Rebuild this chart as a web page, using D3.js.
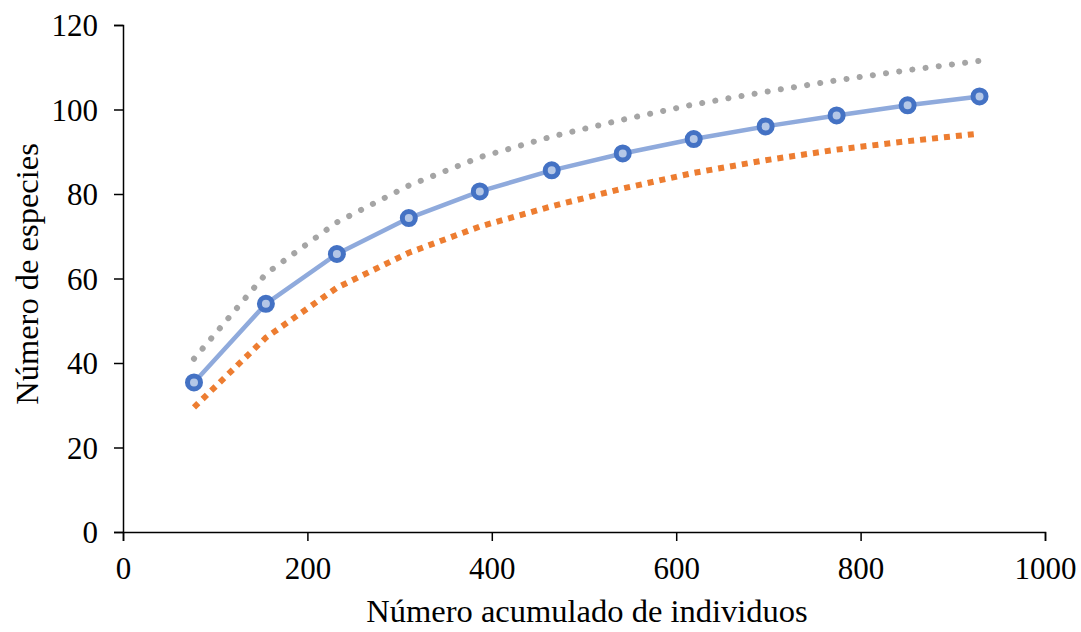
<!DOCTYPE html>
<html>
<head>
<meta charset="utf-8">
<script src="https://cdn.jsdelivr.net/npm/d3@7"></script>
<style>
  html, body { margin: 0; padding: 0; background: #fff; }
  svg { display: block; }
  text { font-family: "Liberation Serif", "Times New Roman", serif; fill: #000; }
</style>
</head>
<body>
<svg id="chart" width="1081" height="632"></svg>
<script>
// Accumulated individuals (x) and species counts
const individuos = [77, 155, 232, 310, 387, 465, 542, 619, 697, 774, 851, 929];
const especies   = [35.4, 54.0, 65.8, 74.3, 80.6, 85.6, 89.6, 93.0, 96.0, 98.6, 101.0, 103.1];
const limiteSuperior = [41.0, 61.1, 73.3, 82.0, 88.7, 93.6, 97.6, 101.2, 104.2, 106.9, 109.3, 111.5];
const limiteInferior = [29.5, 46.0, 57.8, 66.1, 72.3, 77.1, 81.3, 85.0, 88.0, 90.5, 92.5, 94.3];

const xTicks = [0, 200, 400, 600, 800, 1000];
const yTicks = [0, 20, 40, 60, 80, 100, 120];

const svg = d3.select("#chart");
const x = d3.scaleLinear().domain([0, 1000]).range([123, 1045]);
const y = d3.scaleLinear().domain([0, 120]).range([532, 25]);

// Axes
const xAxis = svg.append("g")
  .attr("transform", `translate(0,${y(0)})`)
  .call(d3.axisBottom(x).tickValues(xTicks).tickFormat(d3.format("d"))
    .tickSize(9).tickPadding(13).tickSizeOuter(9));
const yAxis = svg.append("g")
  .attr("transform", `translate(${x(0)},0)`)
  .call(d3.axisLeft(y).tickValues(yTicks).tickFormat(d3.format("d"))
    .tickSize(9).tickPadding(16).tickSizeOuter(9));

[xAxis, yAxis].forEach(g => {
  g.attr("font-family", '"Liberation Serif", serif');
  g.selectAll("path, line").attr("stroke", "#000").attr("stroke-width", 1.5);
  g.selectAll("text").style("font-size", "31px");
});
xAxis.selectAll("text").attr("dy", "0.8em");
yAxis.selectAll("text").attr("dy", "0.34em");

// Axis titles
svg.append("text")
  .attr("x", (x(0) + x(1000)) / 2 + 3)
  .attr("y", 622)
  .attr("text-anchor", "middle")
  .style("font-size", "32.5px")
  .text("Número acumulado de individuos");

svg.append("text")
  .attr("transform", `translate(38,274) rotate(-90)`)
  .attr("text-anchor", "middle")
  .style("font-size", "32.5px")
  .text("Número de especies");

const line = vals => d3.line()
  .x((d, i) => x(individuos[i]))
  .y(d => y(d))(vals);

// Upper bound: round dots
svg.append("path")
  .attr("d", line(limiteSuperior))
  .attr("fill", "none")
  .attr("stroke", "#a5a5a5")
  .attr("stroke-width", 6)
  .attr("stroke-linecap", "round")
  .attr("stroke-dasharray", "0.1 13.2");

// Lower bound: square dots
svg.append("path")
  .attr("d", line(limiteInferior))
  .attr("fill", "none")
  .attr("stroke", "#ed7d31")
  .attr("stroke-width", 6)
  .attr("stroke-linecap", "butt")
  .attr("stroke-dasharray", "6 6");

// Observed accumulation curve
svg.append("path")
  .attr("d", line(especies))
  .attr("fill", "none")
  .attr("stroke", "#8faadc")
  .attr("stroke-width", 4.5)
  .attr("stroke-linejoin", "round");

svg.append("g")
  .selectAll("circle")
  .data(especies)
  .join("circle")
  .attr("cx", (d, i) => x(individuos[i]))
  .attr("cy", d => y(d))
  .attr("r", 6.5)
  .attr("fill", "#b4c7e7")
  .attr("stroke", "#4472c4")
  .attr("stroke-width", 5);
</script>
</body>
</html>
